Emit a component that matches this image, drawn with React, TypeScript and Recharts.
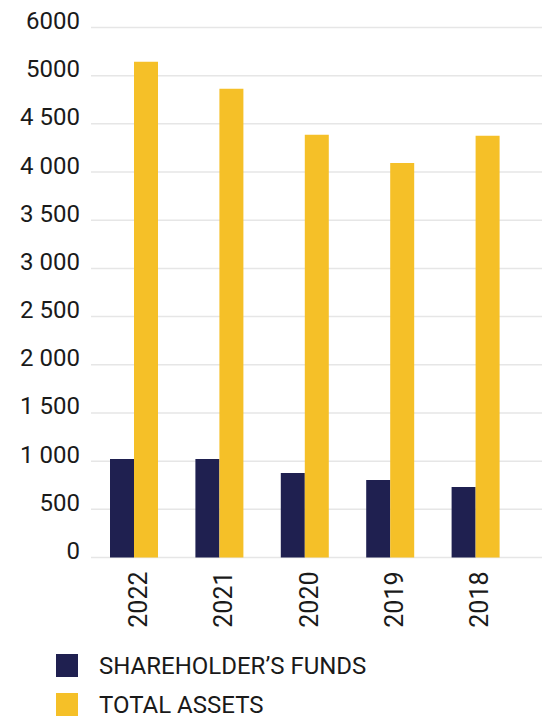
import { BarChart, Bar, XAxis, YAxis, CartesianGrid, Legend } from "recharts"

const years = ["2022", "2021", "2020", "2019", "2018"]
const shareholdersFunds = [1022, 1022, 877, 805, 732]
const totalAssets = [5144, 4864, 4386, 4095, 4376]
const yTicks = [0, 500, 1000, 1500, 2000, 2500, 3000, 3500, 4000, 4500, 5000, 5500]
const yTickLabels = ["0", "500", "1 000", "1 500", "2 000", "2 500", "3 000", "3 500", "4 000", "4 500", "5000", "6000"]

const NAVY = "#1f2050"
const YELLOW = "#f5c028"
const FONT = "Roboto, 'Open Sans', sans-serif"

const data = years.map((y, i) => ({ year: y, funds: shareholdersFunds[i], assets: totalAssets[i] }))

function YTick({ x, y, payload }: any) {
  const idx = yTicks.indexOf(payload.value)
  return (
    <text x={x} y={y - 7} dy="0.355em" textAnchor="end" fontSize={24} fill="#1a1a1a" fontFamily={FONT}>
      {yTickLabels[idx]}
    </text>
  )
}

function XTick({ x, y, payload }: any) {
  return (
    <g transform={`translate(${x + 13},${y + 6}) rotate(-90)`}>
      <text x={0} y={0} textAnchor="end" fontSize={25} fill="#1a1a1a" fontFamily={FONT}>
        {payload.value}
      </text>
    </g>
  )
}

function LegendContent({ payload }: any) {
  const items = payload || []
  return (
    <div style={{ fontFamily: FONT }}>
      {items.map((p: any, i: number) => (
        <div
          key={p.value}
          style={{ display: "flex", alignItems: "center", height: 23, marginBottom: i < items.length - 1 ? 16 : 0 }}
        >
          <span style={{ width: 22, height: 23, background: p.color, display: "inline-block" }} />
          <span style={{ marginLeft: 21, fontSize: 24, color: "#1a1a1a", lineHeight: "20px" }}>{p.value}</span>
        </div>
      ))}
    </div>
  )
}

export default function App() {
  return (
    <div style={{ position: "absolute", left: 0, top: 0, width: 542, height: 720, background: "#fff" }}>
      <BarChart
        width={542}
        height={720}
        data={data}
        margin={{ top: 27.5, right: 0, left: 0, bottom: 0 }}
        barGap={0}
      >
        <CartesianGrid vertical={false} stroke="#e6e6e6" strokeWidth={1.5} />
        <XAxis
          dataKey="year"
          height={162.5}
          axisLine={false}
          tickLine={false}
          tick={<XTick />}
          interval={0}
          padding={{ left: 0, right: 24 }}
        />
        <YAxis
          width={91}
          domain={[0, 5500]}
          ticks={yTicks}
          axisLine={false}
          tickLine={false}
          tick={<YTick />}
          tickMargin={5}
        />
        <Legend
          layout="vertical"
          align="center"
          verticalAlign="middle"
          wrapperStyle={{ left: 56, top: 654, width: 480 }}
          content={<LegendContent />}
        />
        <Bar dataKey="funds" name="SHAREHOLDER’S FUNDS" fill={NAVY} barSize={24} isAnimationActive={false} />
        <Bar dataKey="assets" name="TOTAL ASSETS" fill={YELLOW} barSize={24} isAnimationActive={false} />
      </BarChart>
    </div>
  )
}
